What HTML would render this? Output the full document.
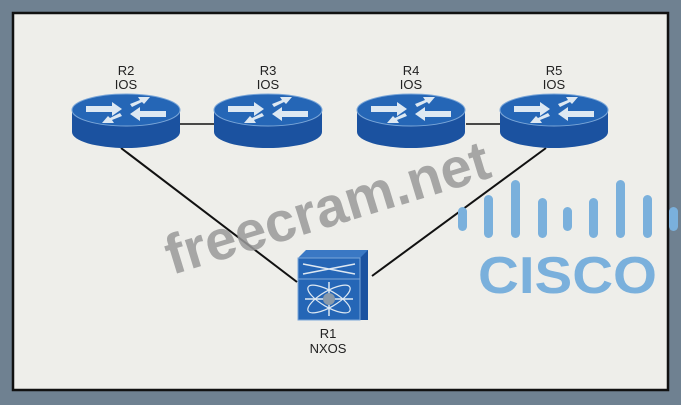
<!DOCTYPE html>
<html><head><meta charset="utf-8"><style>
html,body{margin:0;padding:0;background:#6f8191;}
svg{display:block}
text{font-family:"Liberation Sans",sans-serif}
</style></head><body>
<svg width="681" height="405" viewBox="0 0 681 405" xmlns="http://www.w3.org/2000/svg">
<defs>
<g id="rt">
 <path d="M-54,0 L-54,22 A54,16 0 0 0 54,22 L54,0 Z" fill="#1b52a0"/>
 <ellipse cx="0" cy="0" rx="54" ry="16" fill="#2566b6" stroke="#7aa6d8" stroke-width="1"/>
 <g fill="#dde8f2">
  <polygon points="-40,-4 -14,-4 -14,-8 -4,-1 -14,6 -14,2 -40,2"/>
  <polygon points="40,4 14,4 14,8 4,1 14,-6 14,-2 40,-2" transform="translate(0,3)"/>
  <polygon points="4,-6 14,-10 12,-13 24,-13 18,-6 16,-8 6,-3"/>
  <polygon points="-4,6 -14,10 -12,13 -24,13 -18,6 -16,8 -6,3"/>
 </g>
</g>
</defs>
<rect x="13" y="13" width="655" height="377" fill="#eeeeea" stroke="#111" stroke-width="2.5"/>
<line x1="180" y1="124" x2="214" y2="124" stroke="#111" stroke-width="1.5"/>
<line x1="466" y1="124" x2="500" y2="124" stroke="#111" stroke-width="1.5"/>
<line x1="121" y1="148" x2="297" y2="282" stroke="#111" stroke-width="2"/>
<line x1="546" y1="148" x2="372" y2="276" stroke="#111" stroke-width="2"/>
<text x="172" y="275" font-size="56" font-weight="bold" fill="#9a9a9a" opacity="0.85" transform="rotate(-17 172 275)">freecram.net</text>
<g fill="#7ab0dc">
 <rect x="458" y="207" width="9" height="24" rx="4.5"/>
 <rect x="484" y="195" width="9" height="43" rx="4.5"/>
 <rect x="511" y="180" width="9" height="58" rx="4.5"/>
 <rect x="538" y="198" width="9" height="40" rx="4.5"/>
 <rect x="563" y="207" width="9" height="24" rx="4.5"/>
 <rect x="589" y="198" width="9" height="40" rx="4.5"/>
 <rect x="616" y="180" width="9" height="58" rx="4.5"/>
 <rect x="643" y="195" width="9" height="43" rx="4.5"/>
 <rect x="669" y="207" width="9" height="24" rx="4.5"/>
</g>
<text x="478" y="293" font-size="52" font-weight="bold" fill="#7ab0dc" textLength="179" lengthAdjust="spacingAndGlyphs">CISCO</text>
<use href="#rt" x="126" y="110"/>
<use href="#rt" x="268" y="110"/>
<use href="#rt" x="411" y="110"/>
<use href="#rt" x="554" y="110"/>
<g font-size="13" fill="#222" text-anchor="middle">
 <text x="126" y="75">R2</text><text x="126" y="89">IOS</text>
 <text x="268" y="75">R3</text><text x="268" y="89">IOS</text>
 <text x="411" y="75">R4</text><text x="411" y="89">IOS</text>
 <text x="554" y="75">R5</text><text x="554" y="89">IOS</text>
 <text x="328" y="338">R1</text><text x="328" y="353">NXOS</text>
</g>
<g>
 <polygon points="300,258 308,250 368,250 368,320 298,320 298,258" fill="#1b52a0"/>
 <polygon points="298,258 306,250 368,250 360,258" fill="#3a78c4"/>
 <rect x="298" y="258" width="62" height="62" fill="#2566b6" stroke="#7aa6d8" stroke-width="1"/>
 <line x1="298" y1="279" x2="360" y2="279" stroke="#7aa6d8"/>
 <path d="M303,264 L355,274 M303,274 L355,264" stroke="#dde8f2" stroke-width="1.5"/>
 <ellipse cx="329" cy="299" rx="24" ry="8" fill="none" stroke="#dde8f2" stroke-width="1.2" transform="rotate(30 329 299)"/>
 <ellipse cx="329" cy="299" rx="24" ry="8" fill="none" stroke="#dde8f2" stroke-width="1.2" transform="rotate(-30 329 299)"/>
 <path d="M305,299 H353 M329,282 V316" stroke="#dde8f2" stroke-width="1.5"/>
 <circle cx="329" cy="299" r="6" fill="#8a9aaa"/>
</g>
</svg>
</body></html>
